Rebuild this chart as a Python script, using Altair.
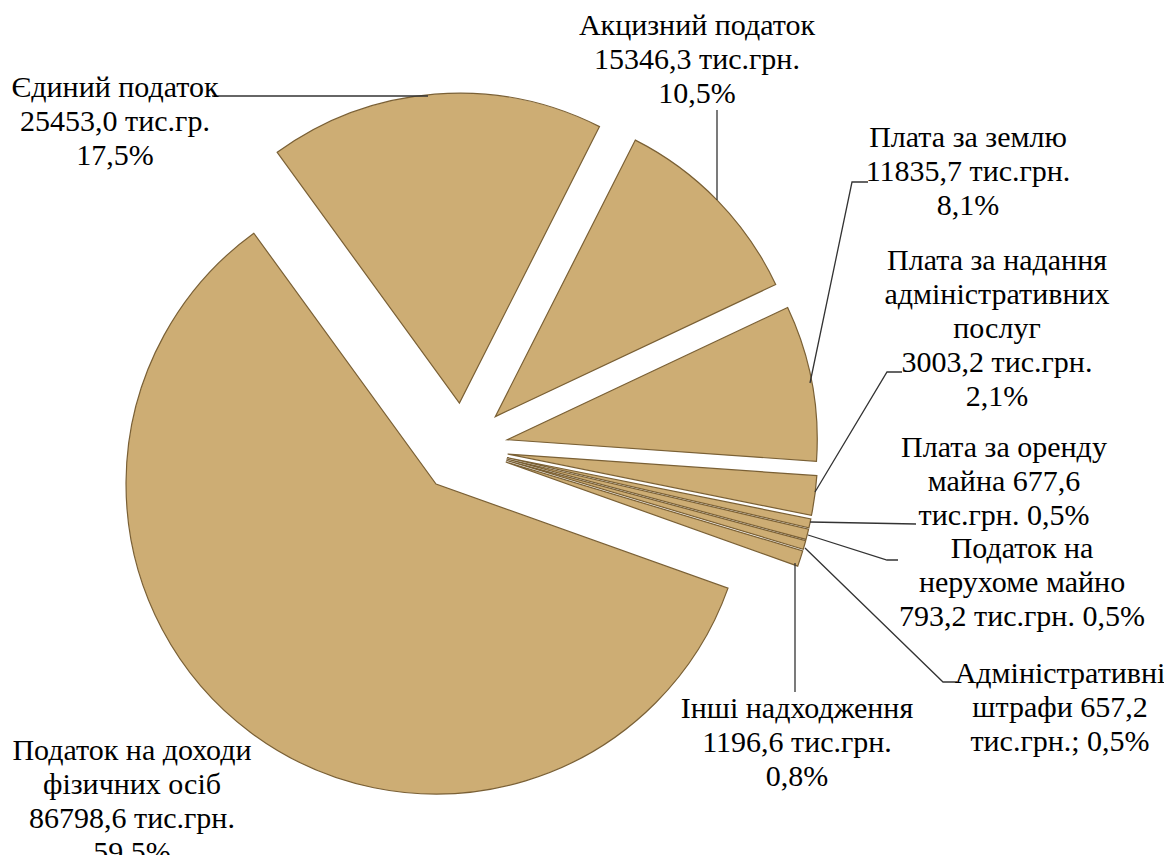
import math
import altair as alt
import pandas as pd

# ---------------- data ----------------
categories = [
    "Єдиний податок",
    "Акцизний податок",
    "Плата за землю",
    "Плата за надання адміністративних послуг",
    "Плата за оренду майна",
    "Податок на нерухоме майно",
    "Адміністративні штрафи",
    "Інші надходження",
    "Податок на доходи фізичних осіб",
]
values = [25453.0, 15346.3, 11835.7, 3003.2, 677.6, 793.2, 657.2, 1196.6, 86798.6]
shares = ["17,5%", "10,5%", "8,1%", "2,1%", "0,5%", "0,5%", "0,5%", "0,8%", "59,5%"]
label_lines = [
    ["Єдиний податок", "25453,0 тис.гр.", "17,5%"],
    ["Акцизний податок", "15346,3 тис.грн.", "10,5%"],
    ["Плата за землю", "11835,7 тис.грн.", "8,1%"],
    ["Плата за надання", "адміністративних", "послуг", "3003,2 тис.грн.", "2,1%"],
    ["Плата за оренду", "майна 677,6", "тис.грн. 0,5%"],
    ["Податок на", "нерухоме майно", "793,2 тис.грн. 0,5%"],
    ["Адміністративні", "штрафи 657,2", "тис.грн.; 0,5%"],
    ["Інші надходження", "1196,6 тис.грн.", "0,8%"],
    ["Податок на доходи", "фізичних осіб", "86798,6 тис.грн.", "59,5%"],
]

# ---------------- layout (page pixels) ----------------
M = 8                      # page margin
W, H = 1156, 847
CX, CY = 463 - M, 448 - M  # pie centre
R = 310                    # radius
EXPLODE = 45               # explosion distance
START = math.radians(-36)  # start angle of first slice
LINE_H = 34

label_pos = [(115, 97), (697, 35), (968, 147), (997, 270), (1004, 457),
             (1022, 558), (1060, 683), (797, 718), (132, 760)]
leaders = [
    [(212, 96), (428, 96)],
    [(717, 110), (717, 200)],
    [(868, 182), (852, 182), (810, 383)],
    [(902, 372), (887, 372), (815, 492)],
    [(916, 524), (810, 522)],
    [(898, 560), (887, 560), (808, 535)],
    [(957, 682), (943, 682), (805, 548)],
    [(795, 692), (795, 563)],
]

FONT = "'Liberation Serif', 'Times New Roman', Tinos, serif"
FILL = "#cdad74"
EDGE = "#7a6035"

# ---------------- tables ----------------
pie_df = pd.DataFrame({
    "category": categories,
    "value": values,
    "share": shares,
    "order": list(range(len(categories))),
})

rows = []
for i, seg in enumerate(leaders):
    for j, (px, py) in enumerate(seg):
        rows.append({"id": i, "k": j, "x": px - M, "y": py - M})
lead_df = pd.DataFrame(rows)

# ---------------- chart ----------------
pie = (
    alt.Chart(pie_df)
    .transform_joinaggregate(total="sum(value)")
    .transform_window(cum="sum(value)", sort=[alt.SortField("order")], frame=[None, 0])
    .transform_calculate(
        t0=f"{START} + 2*PI*(datum.cum - datum.value)/datum.total",
        t1=f"{START} + 2*PI*datum.cum/datum.total",
    )
    .transform_calculate(mid="(datum.t0 + datum.t1)/2")
    .transform_calculate(
        cx=f"{CX} + {EXPLODE}*sin(datum.mid)",
        cy=f"{CY} - {EXPLODE}*cos(datum.mid)",
    )
    .mark_arc(radius=R, fill=FILL, stroke=EDGE, strokeWidth=1.2)
    .encode(
        x=alt.X("cx:Q", scale=None, axis=None),
        y=alt.Y("cy:Q", scale=None, axis=None),
        theta=alt.Theta("t0:Q", scale=None, stack=None),
        theta2="t1:Q",
    )
)

lines = (
    alt.Chart(lead_df)
    .mark_line(color="#333333", strokeWidth=1.3)
    .encode(
        x=alt.X("x:Q", scale=None, axis=None),
        y=alt.Y("y:Q", scale=None, axis=None),
        detail="id:N",
        order="k:O",
    )
)

text_layers = []
for (px, py), lines_ in zip(label_pos, label_lines):
    d = pd.DataFrame({
        "t": lines_,
        "y": [py - M + k * LINE_H for k in range(len(lines_))],
    })
    text_layers.append(
        alt.Chart(d)
        .mark_text(font=FONT, fontSize=30, align="center", baseline="alphabetic")
        .encode(x=alt.value(px - M), y=alt.Y("y:Q", scale=None), text="t:N")
    )

chart = (
    alt.layer(pie, lines, *text_layers)
    .properties(width=W, height=H, padding=0, autosize="none")
    .configure_view(stroke=None)
)

chart.save("out.html", embed_options={"renderer": "svg", "actions": False})
